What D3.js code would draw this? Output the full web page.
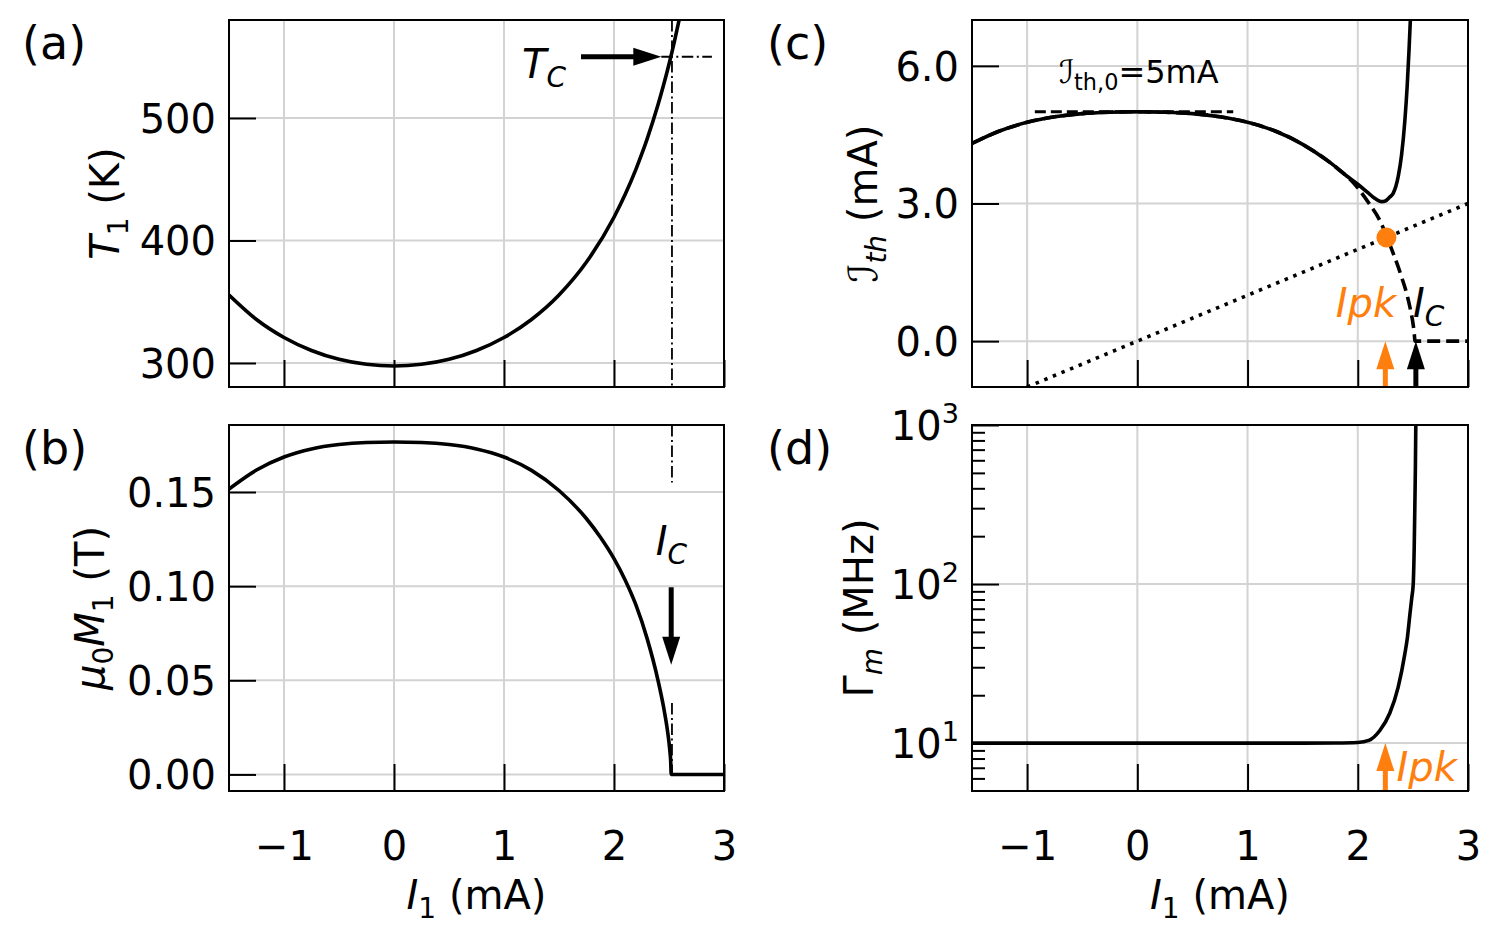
<!DOCTYPE html>
<html><head><meta charset="utf-8">
<script src="https://cdn.jsdelivr.net/npm/d3@7"></script>
<style>
body{margin:0;background:#fff}
svg{display:block}
text{font-family:"DejaVu Sans","Noto Sans",sans-serif;fill:#000}
</style>
</head><body>
<svg id="chart" width="1502" height="941"></svg>
<script>
// ---------------- data ----------------
const xTicks = [-1, 0, 1, 2, 3];
const xTickLabels = ["\u22121", "0", "1", "2", "3"];
const tTicks = [300, 400, 500];
const tTickLabels = ["300", "400", "500"];
const mTicks = [0, 0.05, 0.10, 0.15];
const mTickLabels = ["0.00", "0.05", "0.10", "0.15"];
const ithTicks = [0, 3, 6];
const ithTickLabels = ["0.0", "3.0", "6.0"];
const gTicks = [10, 100, 1000];
const gTickExp = ["1", "2", "3"];
const gMinorTicks = [6, 7, 8, 9, 20, 30, 40, 50, 60, 70, 80, 90, 200, 300, 400, 500, 600, 700, 800, 900];

// (a) temperature T1 vs current I1
const tCurrent = [-1.5, -1.25, -1, -0.75, -0.5, -0.25, 0, 0.25, 0.5, 0.75, 1, 1.25, 1.5, 1.75, 2, 2.1, 2.2, 2.25, 2.3, 2.4, 2.45, 2.5, 2.55, 2.6];
const tTemp    = [355.5, 335.5, 320.8, 310.2, 303.0, 298.9, 297.5, 298.9, 303.0, 310.2, 320.8, 335.5, 355.5, 382.4, 419.0, 437.3, 458.3, 470.0, 482.6, 510.8, 526.7, 543.9, 562.8, 583.4];

// (b) magnetisation mu0 M1 vs I1
const mCurrent = [-1.5, -1.25, -1, -0.75, -0.5, -0.25, 0, 0.25, 0.5, 0.75, 1, 1.25, 1.5, 1.75, 1.875, 2, 2.1, 2.2, 2.3, 2.4, 2.45, 2.48, 2.5, 2.51, 2.515, 2.52, 3];
const mMag     = [0.1516, 0.1617, 0.1686, 0.1729, 0.1752, 0.1763, 0.1766, 0.1763, 0.1752, 0.1729, 0.1686, 0.1615, 0.1508, 0.1358, 0.1261, 0.1146, 0.1034, 0.0899, 0.0724, 0.0500, 0.0360, 0.0257, 0.0170, 0.0112, 0.0075, 0, 0];

// (c) threshold current: dashed (M-scaled) and solid (full)
const ithDashCurrent = [-1.5, -1.25, -1, -0.75, -0.5, -0.25, 0, 0.25, 0.5, 0.75, 1, 1.25, 1.5, 1.75, 2, 2.1, 2.2, 2.27, 2.3, 2.4, 2.45, 2.48, 2.5, 2.51, 2.52, 3];
const ithDash        = [4.31, 4.58, 4.77, 4.89, 4.96, 4.99, 5.0, 4.99, 4.96, 4.89, 4.77, 4.58, 4.29, 3.89, 3.34, 3.01, 2.63, 2.24, 2.05, 1.38, 0.98, 0.66, 0.40, 0.22, 0, 0];
const ithSolidCurrent = [-1.5, -1.25, -1, -0.75, -0.5, -0.25, 0, 0.25, 0.5, 0.75, 1, 1.25, 1.5, 1.75, 1.9, 2.0, 2.1, 2.15, 2.2, 2.215, 2.25, 2.29, 2.321, 2.367, 2.397, 2.427, 2.448, 2.465, 2.478, 2.49];
const ithSolid        = [4.31, 4.58, 4.77, 4.89, 4.96, 4.99, 5.0, 4.99, 4.96, 4.89, 4.77, 4.58, 4.29, 3.89, 3.60, 3.42, 3.22, 3.12, 3.05, 3.04, 3.055, 3.14, 3.22, 3.59, 4.05, 4.80, 5.55, 6.35, 7.05, 7.8];
const dottedCurrent = [-1, 3];
const dottedValue   = [-1, 3];
const ith0Current = [-0.93, 0.87];
const ith0Value   = [5.0, 5.0];

// (d) damping Gamma_m vs I1
const gCurrent = [-1.5, -1, 0, 1, 1.5, 1.8, 2.0, 2.1, 2.2, 2.29, 2.366, 2.427, 2.45, 2.473, 2.49, 2.503, 2.512, 2.518, 2.523, 2.527];
const gGamma   = [10, 10, 10, 10, 10, 10.02, 10.1, 10.4, 12.0, 15.4, 22.4, 36.4, 46, 64.6, 82, 100, 170, 316, 560, 1100];

// key markers
const Ic = 2.527;      // critical current
const Tc = 550;        // Curie temperature
const Ipk = 2.25;      // peak current
const peakPoint = [2.26, 2.26];

// ---------------- drawing ----------------
const svg = d3.select("#chart");
const FS = 40;
const LW = 3.6;
const panels = {
  a: {x0: 229, x1: 724, y0: 20, y1: 387},
  b: {x0: 229, x1: 724, y0: 425, y1: 791},
  c: {x0: 972, x1: 1468, y0: 20, y1: 387},
  d: {x0: 972, x1: 1468, y0: 425, y1: 791}
};
const xa = d3.scaleLinear([-1.5, 3], [panels.a.x0, panels.a.x1]);
const xc = d3.scaleLinear([-1.5, 3], [panels.c.x0, panels.c.x1]);
const ya = d3.scaleLinear([280.4, 580], [panels.a.y1, panels.a.y0]);
const yb = d3.scaleLinear([-0.0088, 0.1856], [panels.b.y1, panels.b.y0]);
const yc = d3.scaleLinear([-1, 7], [panels.c.y1, panels.c.y0]);
const yd = d3.scaleLog([5, 1000], [panels.d.y1, panels.d.y0]);

const defs = svg.append("defs");
Object.entries(panels).forEach(([k, p]) => {
  defs.append("clipPath").attr("id", "clip" + k).append("rect")
    .attr("x", p.x0).attr("y", p.y0).attr("width", p.x1 - p.x0).attr("height", p.y1 - p.y0);
});

function rich(g, x, y, parts, size, opts = {}) {
  const t = g.append("text").attr("x", x).attr("y", y).attr("font-size", size)
    .attr("text-anchor", opts.anchor || "start");
  if (opts.rotate) t.attr("transform", `rotate(-90,${x},${y})`);
  if (opts.fill) t.style("fill", opts.fill);
  let cur = 0;
  parts.forEach(p => {
    const ts = t.append("tspan").text(p.t);
    const shift = p.sub ? size * 0.22 : (p.sup ? -size * 0.42 : 0);
    if (shift - cur !== 0) ts.attr("dy", shift - cur);
    cur = shift;
    if (p.sub || p.sup) ts.attr("font-size", size * 0.7);
    if (p.it) ts.attr("font-style", "italic");
  });
  return t;
}

function arrow(g, x1, y1, x2, y2, color) {
  const hl = 28, hw = 9, sw = 5;
  const dx = x2 - x1, dy = y2 - y1, L = Math.hypot(dx, dy);
  const ux = dx / L, uy = dy / L;
  const bx = x2 - ux * hl, by = y2 - uy * hl;
  g.append("line").attr("x1", x1).attr("y1", y1).attr("x2", bx + ux * 2).attr("y2", by + uy * 2)
    .attr("stroke", color).attr("stroke-width", sw);
  g.append("polygon").attr("points",
    [[x2, y2], [bx - uy * hw, by + ux * hw], [bx + uy * hw, by - ux * hw]].map(p => p.join(",")).join(" "))
    .attr("fill", color);
}

function frame(key, xs, ys, yTickVals, yTickFmt, xLabels) {
  const p = panels[key];
  const g = svg.append("g");
  g.selectAll(".vg").data(xTicks).join("line")
    .attr("x1", d => xs(d)).attr("x2", d => xs(d)).attr("y1", p.y0).attr("y2", p.y1)
    .attr("stroke", "#d3d3d3").attr("stroke-width", 2);
  g.selectAll(".hg").data(yTickVals).join("line")
    .attr("x1", p.x0).attr("x2", p.x1).attr("y1", d => ys(d)).attr("y2", d => ys(d))
    .attr("stroke", "#d3d3d3").attr("stroke-width", 2);
  const gx = g.append("g").attr("transform", `translate(0,${p.y1})`)
    .call(d3.axisBottom(xs).tickValues(xTicks).tickSizeInner(-27).tickSizeOuter(0).tickPadding(41)
      .tickFormat((d, i) => xLabels ? xTickLabels[i] : ""));
  const gy = g.append("g").attr("transform", `translate(${p.x0},0)`)
    .call(d3.axisLeft(ys).tickValues(yTickVals).tickSizeInner(-27).tickSizeOuter(0).tickPadding(13)
      .tickFormat(yTickFmt));
  [gx, gy].forEach(a => {
    a.select(".domain").remove();
    a.selectAll(".tick line").attr("stroke", "#000").attr("stroke-width", 2);
    a.selectAll(".tick text").attr("font-size", FS).attr("font-family", "DejaVu Sans").style("fill", "#000");
  });
  gy.selectAll(".tick text").attr("dy", "0.36em");
  return {g, gx, gy};
}

function spine(key) {
  const p = panels[key];
  svg.append("rect").attr("x", p.x0).attr("y", p.y0).attr("width", p.x1 - p.x0).attr("height", p.y1 - p.y0)
    .attr("fill", "none").attr("stroke", "#000").attr("stroke-width", 2);
}

const lineGen = (xs, ys) => d3.line().x(d => xs(d[0])).y(d => ys(d[1])).curve(d3.curveMonotoneX);
const zip = (a, b) => a.map((v, i) => [v, b[i]]);

// ---- panel (a)
frame("a", xa, ya, tTicks, (d, i) => tTickLabels[i], false);
const ga = svg.append("g").attr("clip-path", "url(#clipa)");
ga.append("line").attr("x1", xa(Ic)).attr("x2", xa(Ic)).attr("y1", ya(580)).attr("y2", ya(280.4))
  .attr("stroke", "#000").attr("stroke-width", 1.8).attr("stroke-dasharray", "11.5,3.5,2,3.5");
ga.append("line").attr("x1", xa(2.43)).attr("x2", xa(2.89)).attr("y1", ya(Tc)).attr("y2", ya(Tc))
  .attr("stroke", "#000").attr("stroke-width", 1.8).attr("stroke-dasharray", "11.5,3.5,2,3.5");
ga.append("path").attr("d", lineGen(xa, ya)(zip(tCurrent, tTemp)))
  .attr("fill", "none").attr("stroke", "#000").attr("stroke-width", LW);
arrow(svg, xa(1.70), ya(Tc), xa(2.43), ya(Tc), "#000");
rich(svg, xa(1.164), ya(532.7), [{t: "T", it: true}, {t: "C", it: true, sub: true}], 40);
spine("a");

// ---- panel (b)
frame("b", xa, yb, mTicks, (d, i) => mTickLabels[i], true);
const gb = svg.append("g").attr("clip-path", "url(#clipb)");
[[0.1856, 0.155], [0.038, 0]].forEach(s => {
  gb.append("line").attr("x1", xa(Ic)).attr("x2", xa(Ic)).attr("y1", yb(s[0])).attr("y2", yb(s[1]))
    .attr("stroke", "#000").attr("stroke-width", 1.8).attr("stroke-dasharray", "11.5,3.5,2,3.5");
});
gb.append("path").attr("d", lineGen(xa, yb)(zip(mCurrent, mMag)))
  .attr("fill", "none").attr("stroke", "#000").attr("stroke-width", LW);
arrow(svg, xa(2.52), yb(0.0994), xa(2.52), yb(0.0582), "#000");
rich(svg, xa(2.38), yb(0.1163), [{t: "I", it: true}, {t: "C", it: true, sub: true}], 40);
spine("b");

// ---- panel (c)
frame("c", xc, yc, ithTicks, (d, i) => ithTickLabels[i], false);
const gc = svg.append("g").attr("clip-path", "url(#clipc)");
gc.append("path").attr("d", lineGen(xc, yc)(zip(dottedCurrent, dottedValue)))
  .attr("fill", "none").attr("stroke", "#000").attr("stroke-width", LW).attr("stroke-dasharray", "3.5,5.8");
gc.append("path").attr("d", lineGen(xc, yc)(zip(ith0Current, ith0Value)))
  .attr("fill", "none").attr("stroke", "#000").attr("stroke-width", 3).attr("stroke-dasharray", "11,5");
gc.append("path").attr("d", lineGen(xc, yc)(zip(ithDashCurrent, ithDash)))
  .attr("fill", "none").attr("stroke", "#000").attr("stroke-width", LW).attr("stroke-dasharray", "13,6");
gc.append("path").attr("d", lineGen(xc, yc)(zip(ithSolidCurrent, ithSolid)))
  .attr("fill", "none").attr("stroke", "#000").attr("stroke-width", LW);
gc.append("circle").attr("cx", xc(peakPoint[0])).attr("cy", yc(peakPoint[1])).attr("r", 10).attr("fill", "#ff7f0e");
arrow(svg, xc(Ipk), yc(-1), xc(Ipk), yc(0), "#ff7f0e");
arrow(svg, xc(Ic), yc(-1), xc(Ic), yc(0), "#000");
rich(svg, xc(1.80), yc(0.52), [{t: "Ipk", it: true}], 40, {fill: "#ff7f0e"});
rich(svg, xc(2.50), yc(0.52), [{t: "I", it: true}, {t: "C", it: true, sub: true}], 40);
rich(svg, xc(-0.71), yc(5.63), [{t: "\u2110"}, {t: "th,0", sub: true}, {t: "=5mA"}], 32);
spine("c");

// ---- panel (d)
const fd = frame("d", xc, yd, gTicks, () => "", true);
fd.gy.selectAll(".tick text").each(function (d, i) {
  const t = d3.select(this).text("");
  t.append("tspan").text("10");
  t.append("tspan").text(gTickExp[i]).attr("font-size", FS * 0.68).attr("dy", -FS * 0.42);
});
fd.g.append("g").attr("transform", `translate(${panels.d.x0},0)`)
  .call(d3.axisLeft(yd).tickValues(gMinorTicks).tickSizeInner(-13).tickSizeOuter(0).tickFormat(""))
  .call(a => { a.select(".domain").remove(); a.selectAll(".tick line").attr("stroke", "#000").attr("stroke-width", 2); });
const gd = svg.append("g").attr("clip-path", "url(#clipd)");
gd.append("path").attr("d", lineGen(xc, yd)(zip(gCurrent, gGamma)))
  .attr("fill", "none").attr("stroke", "#000").attr("stroke-width", LW);
arrow(svg, xc(Ipk), yd(5), xc(Ipk), yd(10), "#ff7f0e");
rich(svg, xc(2.352), yd(5.8), [{t: "Ipk", it: true}], 40, {fill: "#ff7f0e"});
spine("d");

// ---- axis labels
rich(svg, 119, (panels.a.y0 + panels.a.y1) / 2, [{t: "T", it: true}, {t: "1", sub: true}, {t: " (K)"}], FS, {anchor: "middle", rotate: true});
rich(svg, 104, (panels.b.y0 + panels.b.y1) / 2, [{t: "\u03bc", it: true}, {t: "0", sub: true}, {t: "M", it: true}, {t: "1", sub: true}, {t: " (T)"}], FS, {anchor: "middle", rotate: true});
rich(svg, 877, (panels.c.y0 + panels.c.y1) / 2, [{t: "\u2110"}, {t: "th", it: true, sub: true}, {t: " (mA)"}], FS, {anchor: "middle", rotate: true});
rich(svg, 873, (panels.d.y0 + panels.d.y1) / 2, [{t: "\u0393"}, {t: "m", it: true, sub: true}, {t: " (MHz)"}], FS, {anchor: "middle", rotate: true});
rich(svg, (panels.b.x0 + panels.b.x1) / 2, 909, [{t: "I", it: true}, {t: "1", sub: true}, {t: " (mA)"}], FS, {anchor: "middle"});
rich(svg, (panels.d.x0 + panels.d.x1) / 2, 909, [{t: "I", it: true}, {t: "1", sub: true}, {t: " (mA)"}], FS, {anchor: "middle"});

// ---- panel letters
[["(a)", 22, 59], ["(b)", 22, 464], ["(c)", 767, 59], ["(d)", 767, 464]].forEach(d => {
  svg.append("text").attr("x", d[1]).attr("y", d[2]).attr("font-size", 46).text(d[0]);
});
</script>
</body></html>
